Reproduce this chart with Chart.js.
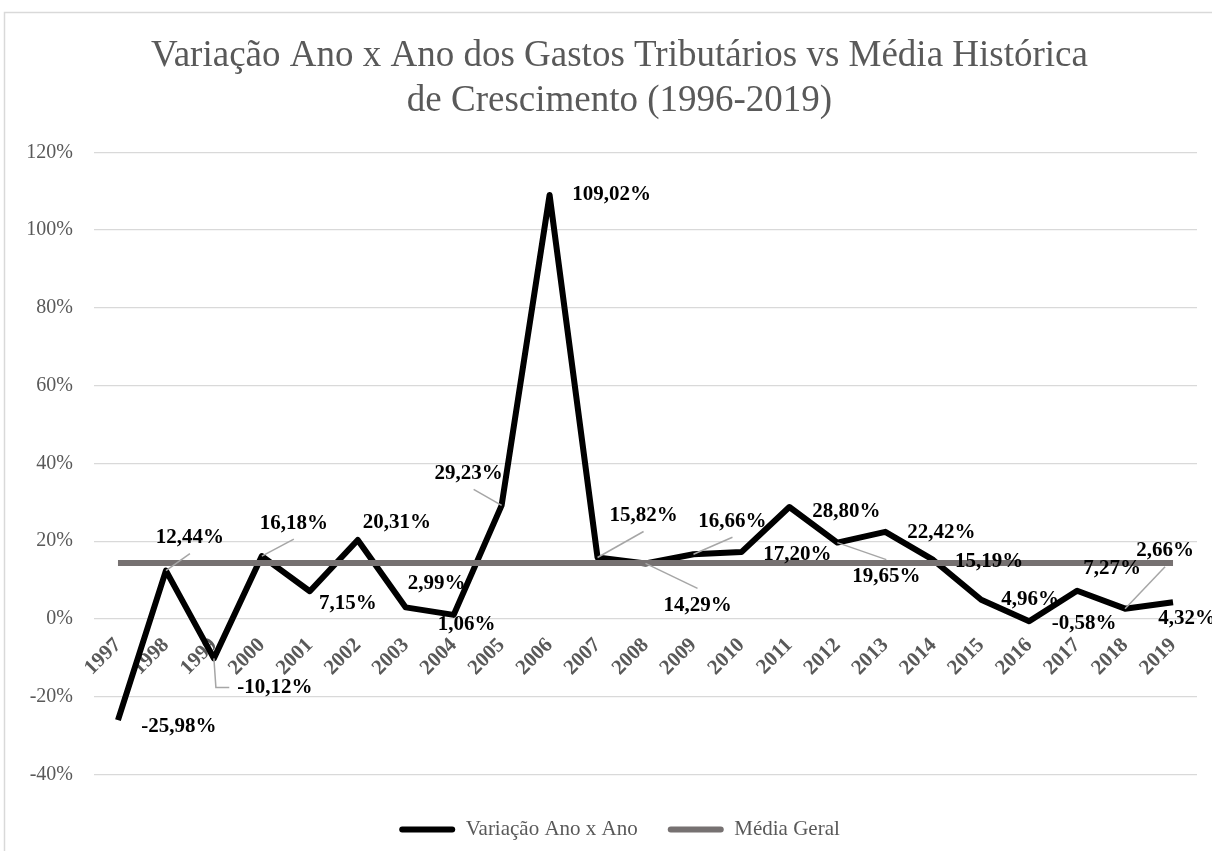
<!DOCTYPE html>
<html lang="pt-BR">
<head>
<meta charset="utf-8">
<title>Variação Ano x Ano dos Gastos Tributários</title>
<script src="https://cdn.jsdelivr.net/npm/chart.js@4.4.1/dist/chart.umd.min.js"></script>
<style>
  html, body { margin: 0; padding: 0; background: #fff; overflow: hidden; }
  #wrap { width: 1212px; height: 851px; overflow: hidden; }
</style>
</head>
<body>
<div id="wrap"><canvas id="gastosChart" width="1254" height="851"></canvas></div>
<script>
const anos = ['1997', '1998', '1999', '2000', '2001', '2002', '2003', '2004', '2005', '2006', '2007', '2008',
              '2009', '2010', '2011', '2012', '2013', '2014', '2015', '2016', '2017', '2018', '2019'];

// variação anual (%)
const variacao = [-25.98, 12.44, -10.12, 16.18, 7.15, 20.31, 2.99, 1.06, 29.23, 109.02, 15.82, 14.29,
                  16.66, 17.20, 28.80, 19.65, 22.42, 15.19, 4.96, -0.58, 7.27, 2.66, 4.32];

// média geral do período (%)
const mediaGeral = [14.39, 14.39, 14.39, 14.39, 14.39, 14.39, 14.39, 14.39, 14.39, 14.39, 14.39, 14.39,
                    14.39, 14.39, 14.39, 14.39, 14.39, 14.39, 14.39, 14.39, 14.39, 14.39, 14.39];

const yTicks = [-40, -20, 0, 20, 40, 60, 80, 100, 120];

const SERIF = "'Liberation Serif', 'Times New Roman', serif";
const CINZA = '#595959';

const fmtPct = v => v.toFixed(2).replace('.', ',') + '%';

// moldura cinza clara em volta do gráfico
const moldura = {
    id: 'moldura',
    beforeDraw(chart) {
        const ctx = chart.ctx;
        ctx.save();
        ctx.fillStyle = '#fff';
        ctx.fillRect(0, 0, chart.width, chart.height);
        ctx.strokeStyle = '#d9d9d9';
        ctx.lineWidth = 1.5;
        ctx.strokeRect(4.5, 12.5, 1400, 1000);
        ctx.restore();
    }
};

// rótulos de valor com linhas de chamada
const rotulos = {
    id: 'rotulos',
    afterDatasetsDraw(chart, args, opts) {
        const ctx = chart.ctx;
        const meta = chart.getDatasetMeta(0);
        const data = chart.data.datasets[0].data;
        ctx.save();
        ctx.font = 'bold 21px ' + SERIF;
        ctx.textAlign = 'center';
        ctx.textBaseline = 'middle';
        meta.data.forEach((pt, i) => {
            const [dx, dy] = opts.offsets[i];
            const tipo = opts.leaders[i];
            const texto = fmtPct(data[i]);
            const cx = pt.x + dx;
            const cy = pt.y + dy;
            const w = ctx.measureText(texto).width;

            if (tipo) {
                ctx.strokeStyle = '#a6a6a6';
                ctx.lineWidth = 1.5;
                ctx.beginPath();
                ctx.moveTo(pt.x, pt.y);
                if (tipo === 2) {
                    ctx.lineTo(pt.x + 2, cy);
                    ctx.lineTo(cx - w / 2 - 8, cy);
                } else if (dy > 0) {
                    ctx.lineTo(cx, cy - 17);
                } else {
                    ctx.lineTo(cx + (dx < 0 ? 5 : 0), cy + 16);
                }
                ctx.stroke();
            }
            ctx.fillStyle = '#000';
            ctx.fillText(texto, cx, cy);
        });
        ctx.restore();
    }
};

const ctx = document.getElementById('gastosChart').getContext('2d');
new Chart(ctx, {
    type: 'line',
    data: {
        labels: anos,
        datasets: [
            {
                label: 'Variação Ano x Ano',
                data: variacao,
                borderColor: '#000',
                backgroundColor: '#000',
                borderWidth: 6,
                borderJoinStyle: 'round',
                pointRadius: 0,
                pointHoverRadius: 0,
                tension: 0,
                order: 2
            },
            {
                label: 'Média Geral',
                data: mediaGeral,
                borderColor: '#767171',
                backgroundColor: '#767171',
                borderWidth: 6,
                pointRadius: 0,
                pointHoverRadius: 0,
                tension: 0,
                order: 1
            }
        ]
    },
    options: {
        responsive: false,
        animation: false,
        devicePixelRatio: 1,
        layout: { padding: { left: 0, right: 15, top: 0, bottom: 1 } },
        scales: {
            x: {
                type: 'category',
                position: { y: 0 },
                offset: true,
                grid: { display: false, drawTicks: false },
                border: { display: false },
                ticks: {
                    autoSkip: false,
                    minRotation: 45,
                    maxRotation: 45,
                    padding: 14,
                    color: CINZA,
                    font: { family: SERIF, size: 21, weight: 'bold' }
                }
            },
            y: {
                min: yTicks[0],
                max: yTicks[yTicks.length - 1],
                afterBuildTicks(scale) {
                    scale.ticks = yTicks.map(v => ({ value: v }));
                },
                afterFit(scale) {
                    scale.width = 94;
                },
                grid: { color: '#d9d9d9', lineWidth: 1.3, drawTicks: false },
                border: { display: false },
                ticks: {
                    padding: 21,
                    color: CINZA,
                    font: { family: SERIF, size: 20 },
                    callback: v => v + '%'
                }
            },
            // eixo vazio à direita, só para reservar a margem do quadro
            margem: {
                axis: 'y',
                type: 'linear',
                position: 'right',
                grid: { display: false, drawTicks: false },
                border: { display: false },
                ticks: { display: false },
                afterFit(scale) {
                    scale.width = 42;
                }
            }
        },
        plugins: {
            title: {
                display: true,
                text: ['Variação Ano x Ano dos Gastos Tributários vs Média Histórica', 'de Crescimento (1996-2019)'],
                color: CINZA,
                font: { family: SERIF, size: 37, weight: 'normal', lineHeight: 1.22 },
                padding: { top: 34, bottom: 28 }
            },
            legend: {
                position: 'bottom',
                title: { display: true, text: '', padding: 0, font: { size: 12 } },
                labels: {
                    boxWidth: 56,
                    boxHeight: 6,
                    padding: 30,
                    color: CINZA,
                    font: { family: SERIF, size: 21 },
                    sort: (a, b) => a.datasetIndex - b.datasetIndex,
                    generateLabels(chart) {
                        const itens = Chart.defaults.plugins.legend.labels.generateLabels(chart);
                        itens.forEach(it => { it.lineWidth = 0; it.borderRadius = 3; });
                        return itens;
                    }
                }
            },
            tooltip: { enabled: false },
            rotulos: {
                offsets: [
                    [61, 7], [24, -33], [61, 29], [32, -33], [38, 12], [39, -17], [31, -24], [13, 10],
                    [-33, -32], [62, 0], [46, -42], [52, 42], [39, -33], [56, 2], [57, 5], [49, 34],
                    [56, 1], [56, 2], [49, 0], [55, 2], [35, -22], [40, -58], [14, 16]
                ],
                // 0 = sem chamada, 1 = linha reta, 2 = linha em cotovelo
                leaders: [0, 1, 2, 1, 0, 0, 0, 0, 1, 0, 1, 1, 1, 0, 0, 1, 0, 0, 0, 0, 0, 1, 0]
            }
        }
    },
    plugins: [moldura, rotulos]
});
</script>
</body>
</html>
